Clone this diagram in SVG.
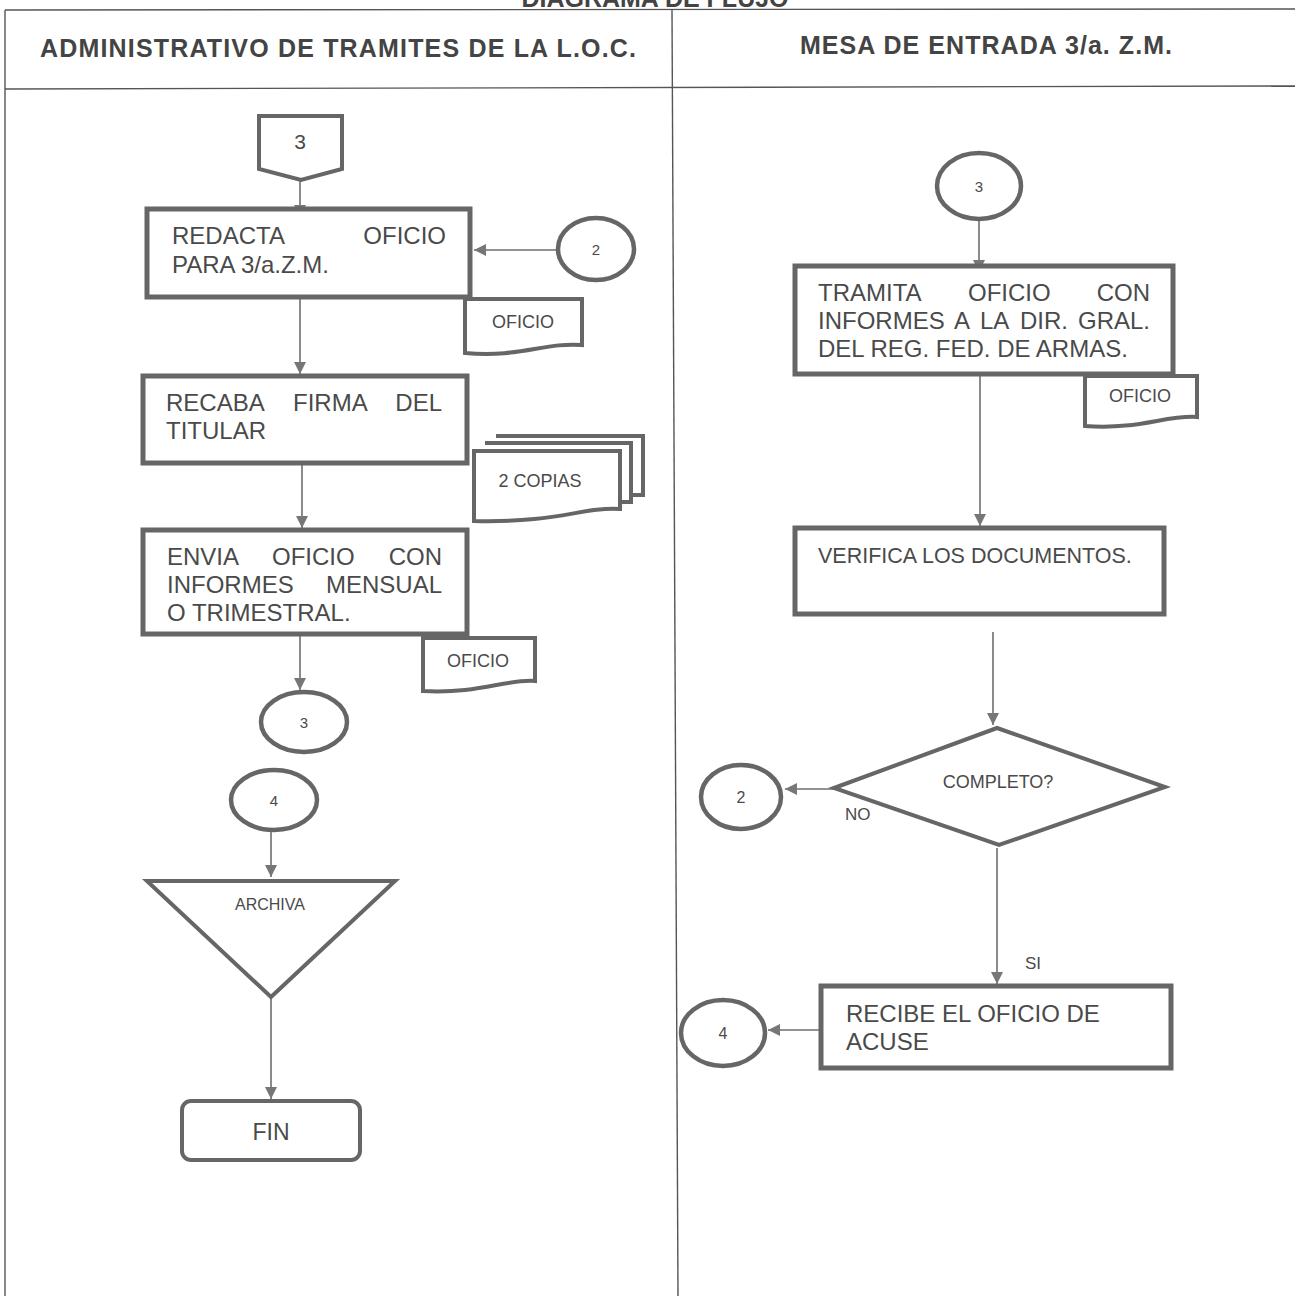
<svg xmlns="http://www.w3.org/2000/svg" width="1295" height="1296" viewBox="0 0 1295 1296">
<defs>
<style>
.t{font-family:"Liberation Sans",Arial,sans-serif;fill:#4a4a4a}
.b{font-size:24px}
.h{font-family:"Liberation Sans",Arial,sans-serif;font-weight:bold;fill:#444;font-size:25px}
.box{fill:#fff;stroke:#666;stroke-width:5}
.doc{fill:#fff;stroke:#666;stroke-width:4}
.circ{fill:#fff;stroke:#666;stroke-width:4.5}
.shape{fill:#fff;stroke:#666;stroke-width:4}
.c{fill:none;stroke:#6e6e6e;stroke-width:1.6}
.grid{fill:none;stroke:#555;stroke-width:1.4}
</style>
<marker id="ar" markerWidth="12" markerHeight="12" refX="10" refY="5" orient="auto" markerUnits="userSpaceOnUse" viewBox="0 0 10 10">
<path d="M0,0 L10,5 L0,10 Z" fill="#777"/>
</marker>
</defs>
<rect width="1295" height="1296" fill="#fff"/>
<g id="frame">
<text class="h" x="655" y="7" text-anchor="middle" font-size="26">DIAGRAMA DE FLUJO</text>
<line class="grid" x1="5" y1="10" x2="1295" y2="9"/>
<line class="grid" x1="5" y1="10" x2="5" y2="1296"/>
<line class="grid" x1="672" y1="10" x2="678" y2="1296"/>
<line class="grid" x1="5" y1="89" x2="1295" y2="86"/>
<text class="h" x="40" y="57" textLength="596" lengthAdjust="spacing">ADMINISTRATIVO DE TRAMITES DE LA L.O.C.</text>
<text class="h" x="800" y="54" textLength="372" lengthAdjust="spacing">MESA DE ENTRADA 3/a. Z.M.</text>
</g>
<g id="connectors">
<line class="c" x1="300" y1="180" x2="300" y2="217" marker-end="url(#ar)"/>
<line class="c" x1="557" y1="250" x2="474" y2="250" marker-end="url(#ar)"/>
<line class="c" x1="300" y1="272" x2="300" y2="374" marker-end="url(#ar)"/>
<line class="c" x1="302" y1="463" x2="302" y2="528" marker-end="url(#ar)"/>
<line class="c" x1="300" y1="634" x2="300" y2="690" marker-end="url(#ar)"/>
<line class="c" x1="271" y1="830" x2="271" y2="877" marker-end="url(#ar)"/>
<line class="c" x1="271" y1="997" x2="271" y2="1099" marker-end="url(#ar)"/>
<line class="c" x1="979" y1="219" x2="979" y2="272" marker-end="url(#ar)"/>
<line class="c" x1="980" y1="374" x2="980" y2="526" marker-end="url(#ar)"/>
<line class="c" x1="993" y1="632" x2="993" y2="725" marker-end="url(#ar)"/>
<line class="c" x1="834" y1="789" x2="785" y2="789" marker-end="url(#ar)"/>
<line class="c" x1="997" y1="848" x2="997" y2="984" marker-end="url(#ar)"/>
<line class="c" x1="833" y1="1030" x2="768" y2="1030" marker-end="url(#ar)"/>
<text class="t" x="845" y="820" font-size="17">NO</text>
<text class="t" x="1025" y="969" font-size="17">SI</text>
</g>
<g id="offpage3">
<path class="doc" d="M259,116 H342 V169 L301,180 L259,169 Z"/>
<text class="t" x="300" y="149" font-size="21" text-anchor="middle">3</text>
</g>
<g id="redacta">
<rect class="box" x="147" y="209" width="323" height="88"/>
<text class="t b" y="244"><tspan x="172">REDACTA</tspan><tspan x="446" text-anchor="end">OFICIO</tspan></text>
<text class="t b" x="172" y="273">PARA 3/a.Z.M.</text>
</g>
<g id="conn2left">
<ellipse class="circ" cx="596" cy="249" rx="38" ry="31"/>
<text class="t" x="596" y="255" font-size="15" text-anchor="middle">2</text>
</g>
<g id="doc1">
<path class="doc" d="M465,299 H582 V345 C545,342 520,358 465,353 Z"/>
<text class="t" x="523" y="328" font-size="18" text-anchor="middle">OFICIO</text>
</g>
<g id="recaba">
<rect class="box" x="143" y="376" width="324" height="87"/>
<text class="t b" y="411"><tspan x="166">RECABA</tspan><tspan x="293">FIRMA</tspan><tspan x="442" text-anchor="end">DEL</tspan></text>
<text class="t b" x="166" y="439">TITULAR</text>
</g>
<g id="copias">
<path class="doc" d="M496,436 H643 V495 H632"/>
<path class="doc" d="M485,443 H631 V502 H620"/>
<path class="doc" d="M474,451 H620 V509 C580,507 560,523 474,521 Z"/>
<text class="t" x="540" y="487" font-size="18" text-anchor="middle">2 COPIAS</text>
</g>
<g id="envia">
<rect class="box" x="143" y="530" width="324" height="104"/>
<text class="t b" y="565"><tspan x="167">ENVIA</tspan><tspan x="272">OFICIO</tspan><tspan x="442" text-anchor="end">CON</tspan></text>
<text class="t b" y="593"><tspan x="167">INFORMES</tspan><tspan x="442" text-anchor="end">MENSUAL</tspan></text>
<text class="t b" x="167" y="621">O TRIMESTRAL.</text>
</g>
<g id="doc2">
<path class="doc" d="M423,638 H535 V681 C505,679 480,694 423,691 Z"/>
<text class="t" x="478" y="667" font-size="18" text-anchor="middle">OFICIO</text>
</g>
<g id="conn3out">
<ellipse class="circ" cx="304" cy="722" rx="43" ry="30"/>
<text class="t" x="304" y="728" font-size="15" text-anchor="middle">3</text>
</g>
<g id="conn4in">
<ellipse class="circ" cx="274" cy="800" rx="43" ry="30"/>
<text class="t" x="274" y="806" font-size="15" text-anchor="middle">4</text>
</g>
<g id="archiva">
<path class="shape" d="M147,881 H395 L271,997 Z"/>
<text class="t" x="270" y="910" font-size="16" text-anchor="middle">ARCHIVA</text>
</g>
<g id="fin">
<rect class="shape" x="182" y="1101" width="178" height="59" rx="9" stroke-width="3"/>
<text class="t" x="271" y="1140" font-size="23" text-anchor="middle">FIN</text>
</g>
<g id="conn3right">
<ellipse class="circ" cx="979" cy="186" rx="42" ry="33"/>
<text class="t" x="979" y="192" font-size="15" text-anchor="middle">3</text>
</g>
<g id="tramita">
<rect class="box" x="795" y="266" width="378" height="108"/>
<text class="t b" y="301"><tspan x="818">TRAMITA</tspan><tspan x="968">OFICIO</tspan><tspan x="1150" text-anchor="end">CON</tspan></text>
<text class="t b" y="329"><tspan x="818">INFORMES</tspan><tspan x="954">A</tspan><tspan x="980">LA</tspan><tspan x="1020">DIR.</tspan><tspan x="1150" text-anchor="end">GRAL.</tspan></text>
<text class="t b" x="818" y="357">DEL REG. FED. DE ARMAS.</text>
</g>
<g id="doc3">
<path class="doc" d="M1085,376 H1197 V417 C1165,415 1140,430 1085,426 Z"/>
<text class="t" x="1140" y="402" font-size="18" text-anchor="middle">OFICIO</text>
</g>
<g id="verifica">
<rect class="box" x="795" y="528" width="369" height="86"/>
<text class="t" x="818" y="563" font-size="21.5">VERIFICA LOS DOCUMENTOS.</text>
</g>
<g id="completo">
<path class="shape" d="M834,788 L997,728 L1165,787 L999,845 Z"/>
<text class="t" x="998" y="788" font-size="18" text-anchor="middle">COMPLETO?</text>
</g>
<g id="conn2right">
<ellipse class="circ" cx="741" cy="797" rx="40" ry="32"/>
<text class="t" x="741" y="803" font-size="16" text-anchor="middle">2</text>
</g>
<g id="recibe">
<rect class="box" x="821" y="986" width="350" height="82"/>
<text class="t" x="846" y="1022" font-size="24">RECIBE EL OFICIO DE</text>
<text class="t" x="846" y="1050" font-size="24">ACUSE</text>
</g>
<g id="conn4right">
<ellipse class="circ" cx="723" cy="1033" rx="42" ry="33"/>
<text class="t" x="723" y="1039" font-size="16" text-anchor="middle">4</text>
</g>
</svg>
